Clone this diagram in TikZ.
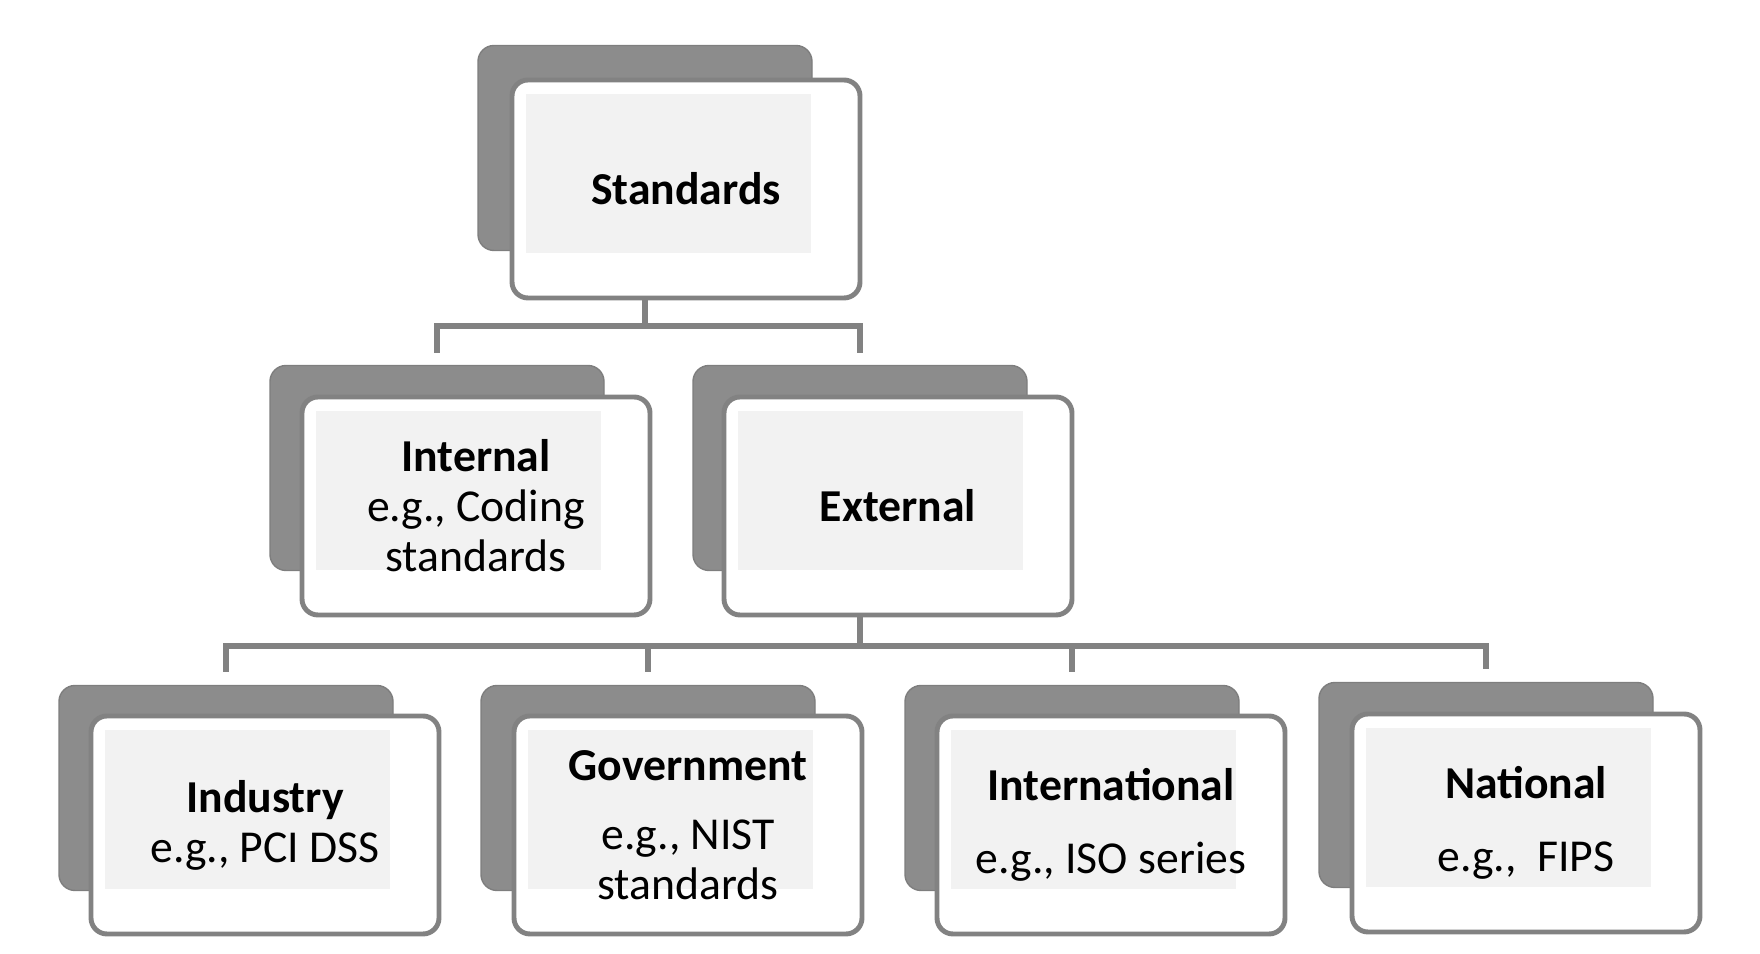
\documentclass[tikz,border=0pt]{standalone}
\usepackage{fontspec}
\setmainfont{Carlito}
\definecolor{backgray}{RGB}{140,140,140}
\definecolor{linegray}{RGB}{130,130,130}
\definecolor{innergray}{RGB}{242,242,242}
\begin{document}
\begin{tikzpicture}[
    back/.style={rectangle, rounded corners=0.16cm, fill=backgray, draw=backgray!90!black,
      minimum width=3.34cm, minimum height=2.05cm},
    front/.style={rectangle, rounded corners=0.16cm, draw=linegray, line width=1.4pt, fill=white,
      minimum width=3.48cm, minimum height=2.18cm, align=center,
      font=\fontsize{13}{14.2}\selectfont,
      path picture={\fill[innergray, sharp corners]
        ([shift={(0.14,-0.14)}]path picture bounding box.north west) rectangle
        ([shift={(-0.49,0.45)}]path picture bounding box.south east);}},
    link/.style={draw=linegray, line width=1.7pt, line join=miter}
  ]
  \useasboundingbox (0,0) rectangle (17.6,-9.54);
  % shadow cards
  \node[back] (stdb) at (6.45,-1.48) {};
  \node[back] (intb) at (4.37,-4.68) {};
  \node[back] (extb) at (8.60,-4.68) {};
  \node[back] (indb) at (2.26,-7.88) {};
  \node[back] (govb) at (6.48,-7.88) {};
  \node[back] (intlb) at (10.72,-7.88) {};
  \node[back] (natb) at (14.86,-7.85) {};
  % front cards
  \node[front] (std) at (6.86,-1.89) {\textbf{Standards}};
  \node[front] (int) at (4.76,-5.06) {\textbf{Internal}\\e.g., Coding\\standards};
  \node[front] (ext) at (8.98,-5.06) {\textbf{External}};
  \node[front] (ind) at (2.65,-8.25) {\textbf{Industry}\\e.g., PCI DSS};
  \node[front] (gov) at (6.88,-8.25) {\textbf{Government}\\[5.4pt]e.g., NIST\\standards};
  \node[front] (intl) at (11.11,-8.25) {\textbf{International}\\[6.5pt]e.g., ISO series};
  \node[front] (nat) at (15.26,-8.23) {\textbf{National}\\[6.5pt]e.g.,\ \ FIPS};
  % buses
  \coordinate (bus1) at (0,-3.26);
  \coordinate (bus2) at (0,-6.46);
  \begin{scope}[link]
    \draw (stdb |- std.south) -- (stdb |- bus1);
    \draw ([yshift=1.2mm]intb.north) |- (extb |- bus1) -- ([yshift=1.2mm]extb.north);
    \draw (extb |- ext.south) -- (extb |- bus2);
    \draw ([yshift=1.3mm]indb.north) |- (natb |- bus2) -- ([yshift=1.3mm]natb.north);
    \draw ([yshift=1.3mm]govb.north) -- (govb |- bus2);
    \draw ([yshift=1.3mm]intlb.north) -- (intlb |- bus2);
  \end{scope}
\end{tikzpicture}
\end{document}
